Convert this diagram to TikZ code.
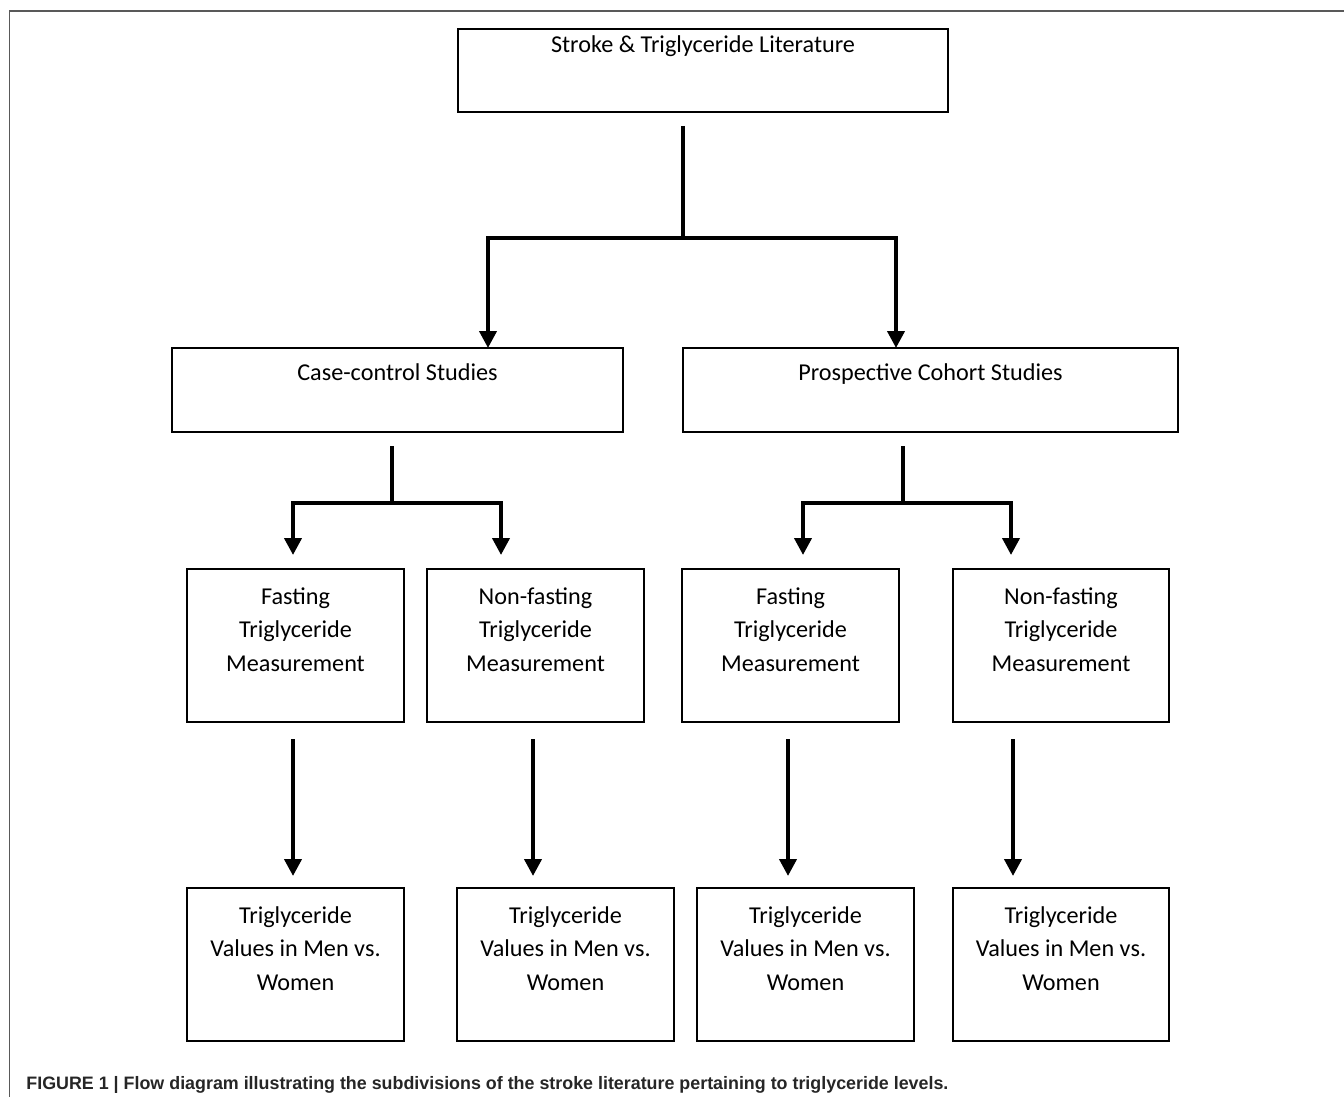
\documentclass[tikz,border=0pt]{standalone}
\usepackage{graphicx}
\usepackage{fontspec}
\setmainfont{Carlito}
\newfontfamily\capfont{Liberation Sans}
\usetikzlibrary{arrows.meta}
\begin{document}
\begin{tikzpicture}[x=0.5pt,y=-0.5pt,
  box/.style={draw=black, line width=1pt, inner sep=0pt, outer sep=0pt},
  wide/.style={minimum width=#1*0.5pt},
  tall/.style={minimum height=#1*0.5pt},
  txt/.style={font=\fontsize{12.1pt}{16.85pt}\selectfont, align=center, inner sep=0pt},
  conn/.style={line width=2pt},
  arr/.style={line width=2pt, -{Triangle[length=8.5pt,width=8.5pt]}},
  frame/.style={draw=black!65, line width=0.8pt}
]
\useasboundingbox (0,0) rectangle (1344,1097);
\draw[frame] (9.5,1097) -- (9.5,11) -- (1344,11);

% boxes
\node[box, wide=490, tall=83] (top) at (703,70.5) {};
\node[box, wide=451, tall=84] (cc) at (397.5,390) {};
\node[box, wide=495, tall=84] (pc) at (930.5,390) {};
\node[box, wide=217, tall=153] (A) at (295.5,645.5) {};
\node[box, wide=217, tall=153] (B) at (535.5,645.5) {};
\node[box, wide=217, tall=153] (C) at (790.5,645.5) {};
\node[box, wide=216, tall=153] (D) at (1061,645.5) {};
\node[box, wide=217, tall=153] (R1) at (295.5,964.5) {};
\node[box, wide=217, tall=153] (R2) at (565.5,964.5) {};
\node[box, wide=217, tall=153] (R3) at (805.5,964.5) {};
\node[box, wide=216, tall=153] (R4) at (1061,964.5) {};

% texts
\node[txt, anchor=base] (topt) at (703,53) {Stroke \& Triglyceride Literature};
\node[txt, anchor=base] (cct) at (397.5,380.5) {Case-control Studies};
\node[txt, anchor=base] (pct) at (930.5,380.5) {Prospective Cohort Studies};
\node[txt] (At) at (295.5,629.5) {Fasting\\Triglyceride\\Measurement};
\node[txt] (Bt) at (535.5,629.5) {Non-fasting\\Triglyceride\\Measurement};
\node[txt] (Ct) at (790.5,629.5) {Fasting\\Triglyceride\\Measurement};
\node[txt] (Dt) at (1061,629.5) {Non-fasting\\Triglyceride\\Measurement};
\node[txt] (R1t) at (295.5,948.5) {Triglyceride\\Values in Men vs.\\Women};
\node[txt] (R2t) at (565.5,948.5) {Triglyceride\\Values in Men vs.\\Women};
\node[txt] (R3t) at (805.5,948.5) {Triglyceride\\Values in Men vs.\\Women};
\node[txt] (R4t) at (1061,948.5) {Triglyceride\\Values in Men vs.\\Women};

% caption
\node[anchor=base west, inner sep=0pt, text=black!85] (cap) at (26,1089)
  {\resizebox{461pt}{\height}{\capfont\bfseries\fontsize{9pt}{10pt}\selectfont FIGURE 1 | Flow diagram illustrating the subdivisions of the stroke literature pertaining to triglyceride levels.}};

% junction and tip coordinates
\coordinate (j0) at (683,238);
\coordinate (t1) at (488,348);
\coordinate (t2) at (896,348);
\coordinate (j1) at (392,503);
\coordinate (ta) at (293,555);
\coordinate (tb) at (501,555);
\coordinate (j2) at (903,503);
\coordinate (tc) at (803,555);
\coordinate (td) at (1011,555);
\coordinate (r1) at (293,876);
\coordinate (r2) at (533,876);
\coordinate (r3) at (788,876);
\coordinate (r4) at (1013,876);

% connectors level 1
\draw[conn] (top.south -| j0) ++(0,14) -- (j0);
\draw[arr] (j0) -| (t1 |- cc.north);
\draw[arr] (j0) -| (t2 |- pc.north);

% level 2
\draw[conn] (cc.south -| j1) ++(0,14) -- (j1);
\draw[arr] (j1) -| (ta);
\draw[arr] (j1) -| (tb);
\draw[conn] (pc.south -| j2) ++(0,14) -- (j2);
\draw[arr] (j2) -| (tc);
\draw[arr] (j2) -| (td);

% level 3
\draw[arr] (A.south -| r1) ++(0,17) -- (r1);
\draw[arr] (B.south -| r2) ++(0,17) -- (r2);
\draw[arr] (C.south -| r3) ++(0,17) -- (r3);
\draw[arr] (D.south -| r4) ++(0,17) -- (r4);
\end{tikzpicture}
\end{document}
